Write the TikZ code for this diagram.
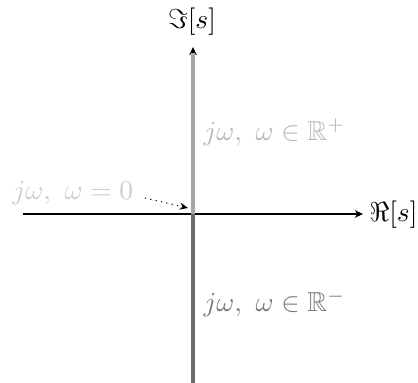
\documentclass[tikz,border=0pt]{standalone}
\usepackage{amsmath,amssymb}
\usetikzlibrary{arrows.meta}
\begin{document}
\begin{tikzpicture}[x=0.365pt,y=-0.365pt,
  axis/.style={-{Stealth[length=3pt,width=2.8pt]},line width=0.4pt,black},
  part/.style={line width=1.1pt},
  lbl/.style={inner sep=0pt}]
\useasboundingbox (0,0) rectangle (418,383);
\coordinate (xs) at (23,214);
\coordinate (xe) at (363,214);
\coordinate (ys) at (193,383);
\coordinate (ye) at (193,47);
\coordinate (o) at (193,214);
\coordinate (uptop) at (193,53);
\draw[axis] (xs) -- (xe);
\draw[axis] (ys) -- (ye);
\draw[part,black!35] (o) -- (uptop);
\draw[part,black!58] (o) -- (ys);
\node[lbl,anchor=west] (re) at (369,215) {$\Re[s]$};
\node[lbl,anchor=south] (im) at (192,36) {$\Im[s]$};
\node[lbl,anchor=west,black!20] (w0) at (12,193) {$j\omega,\ \omega=0$};
\node[lbl,anchor=west,black!28] (wp) at (203,132) {$j\omega,\ \omega\in\mathbb{R}^+$};
\node[lbl,anchor=west,black!52] (wm) at (203,303) {$j\omega,\ \omega\in\mathbb{R}^-$};
\coordinate (ds) at (145,198);
\coordinate (de) at (188,208);
\draw[line width=0.4pt,dash pattern=on 0.4pt off 1.6pt,-{Stealth[length=3pt,width=2.6pt]}] (ds) -- (de);
\end{tikzpicture}
\end{document}
